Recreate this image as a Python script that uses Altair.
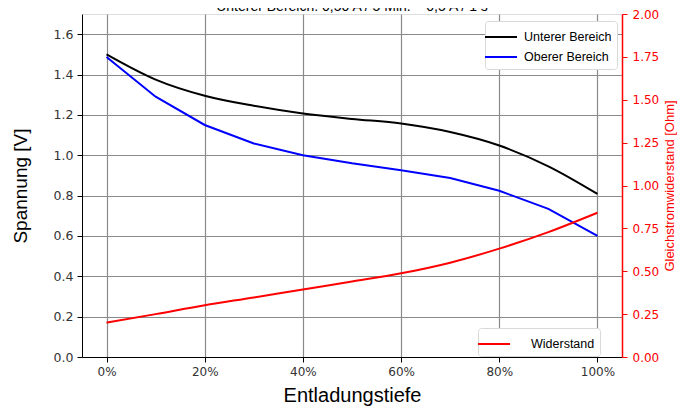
import altair as alt
import pandas as pd

# ---- data ----
depth = [0, 10, 20, 30, 40, 50, 60, 70, 80, 90, 100]
unterer = [1.50, 1.375, 1.295, 1.245, 1.207, 1.18, 1.157, 1.115, 1.048, 0.945, 0.808]
oberer = [1.487, 1.29, 1.15, 1.058, 1.0, 0.96, 0.926, 0.887, 0.824, 0.734, 0.60]
widerstand = [0.20, 0.25, 0.302, 0.347, 0.394, 0.44, 0.488, 0.55, 0.632, 0.728, 0.841]
series_names = ["Unterer Bereich", "Oberer Bereich"]
series_colors = ["#000000", "#0000ff"]
x_ticks = [0, 20, 40, 60, 80, 100]
y_ticks = [0.0, 0.2, 0.4, 0.6, 0.8, 1.0, 1.2, 1.4, 1.6]
r_ticks = [0.0, 0.25, 0.5, 0.75, 1.0, 1.25, 1.5, 1.75, 2.0]
title_text = "Unterer Bereich: 0,50 A / 5 Min. \u2013 0,5 A / 1 s"

df_u = pd.DataFrame({"Tiefe": depth, "V": unterer, "Serie": series_names[0]})
df_o = pd.DataFrame({"Tiefe": depth, "V": oberer, "Serie": series_names[1]})
df_r = pd.DataFrame({"Tiefe": depth, "R": widerstand, "Serie": "Widerstand"})

LABEL_FONT = "DejaVu Sans"
TITLE_FONT = "Liberation Sans"

x_enc = alt.X(
    "Tiefe:Q",
    scale=alt.Scale(domain=[-5, 105], nice=False, zero=False),
    axis=alt.Axis(
        values=x_ticks, labelExpr="datum.value + '%'", title="Entladungstiefe",
        grid=True, gridColor="#8a8a8a", gridWidth=1.2,
        domainColor="#000000", tickColor="#000000", tickSize=5,
        labelFont=LABEL_FONT, labelFontSize=12, labelColor="#333333", labelPadding=4,
        titleFont=TITLE_FONT, titleFontSize=20, titleFontWeight="normal",
        titleColor="#000000", titlePadding=8,
    ),
)

y_axis = alt.Axis(
    values=y_ticks, format=".1f", title="Spannung [V]",
    grid=True, gridColor="#8a8a8a", gridWidth=1.2,
    domainColor="#000000", tickColor="#000000", tickSize=5,
    labelFont=LABEL_FONT, labelFontSize=12.5, labelColor="#333333", labelPadding=4,
    titleFont=TITLE_FONT, titleFontSize=19, titleFontWeight="normal",
    titleColor="#000000", titlePadding=23,
)
y_scale = alt.Scale(domain=[0, 1.7], nice=False)

color_v = alt.Color(
    "Serie:N",
    scale=alt.Scale(domain=series_names, range=series_colors),
    legend=alt.Legend(
        title=None, orient="none", legendX=403, legendY=7,
        symbolType="M-1.6,0L1.6,0", symbolSize=400, symbolStrokeWidth=2,
        labelFont=TITLE_FONT, labelFontSize=12.5, labelColor="#000000",
        labelOffset=12, rowPadding=2, padding=5,
        fillColor="#ffffff", strokeColor="#d9d9d9", cornerRadius=3,
    ),
)

line_u = alt.Chart(df_u).mark_line(strokeWidth=2, interpolate="monotone").encode(
    x=x_enc, y=alt.Y("V:Q", scale=y_scale, axis=y_axis), color=color_v
)
line_o = alt.Chart(df_o).mark_line(strokeWidth=2).encode(
    x=x_enc, y=alt.Y("V:Q", scale=y_scale, axis=y_axis), color=color_v
)

title_mark = alt.Chart(pd.DataFrame({"t": [title_text]})).mark_text(
    font=TITLE_FONT, fontSize=14, color="#000000", baseline="alphabetic", align="center"
).encode(x=alt.value(270), y=alt.value(-3), text="t:N")

left = alt.layer(line_u, line_o, title_mark)

line_r = alt.Chart(df_r).mark_line(strokeWidth=2, interpolate="monotone").encode(
    x=x_enc,
    y=alt.Y(
        "R:Q",
        scale=alt.Scale(domain=[0, 2.0], nice=False),
        axis=alt.Axis(
            orient="right", values=r_ticks, format=".2f",
            title="Gleichstromwiderstand [Ohm]", grid=False,
            domainColor="#ff0000", domainWidth=1.5, tickColor="#ff0000", tickSize=5,
            labelFont=LABEL_FONT, labelFontSize=12, labelColor="#ff0000", labelPadding=5,
            titleFont=TITLE_FONT, titleFontSize=13, titleFontWeight="normal",
            titleColor="#ff0000", titlePadding=5, titleAngle=270, titleBaseline="top",
        ),
    ),
    color=alt.Color(
        "Serie:N",
        scale=alt.Scale(domain=["Widerstand"], range=["#ff0000"]),
        legend=alt.Legend(
            title=None, orient="none", legendX=396, legendY=314,
            symbolType="M-1.6,0L1.6,0", symbolSize=400, symbolStrokeWidth=2,
            labelFont=TITLE_FONT, labelFontSize=12.5, labelColor="#000000",
            labelOffset=26, padding=5,
            fillColor="#ffffff", strokeColor="#d9d9d9", cornerRadius=3,
        ),
    ),
)

chart = (
    alt.layer(left, line_r)
    .resolve_scale(y="independent", color="independent")
    .properties(
        width=540, height=343,
        autosize=alt.AutoSizeParams(type="none"),
        padding={"left": 74, "top": 6, "right": 56, "bottom": 50},
    )
    .configure_view(stroke="#000000", strokeWidth=1)
    .configure(background="#ffffff")
)

chart.save("out.html", embed_options={"renderer": "svg", "actions": False})
